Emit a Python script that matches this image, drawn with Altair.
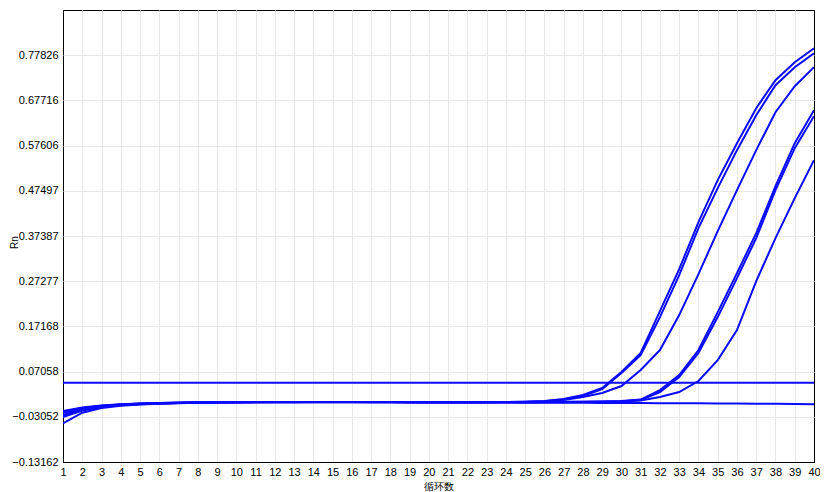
import altair as alt
import pandas as pd

cycles = list(range(1, 41))

well_A = [-0.0176, -0.0098, -0.0053, -0.0025, -0.0008, 0.0003, 0.0012, 0.0018, 0.0022, 0.0024,
          0.0025, 0.0026, 0.0026, 0.0026, 0.0027, 0.0027, 0.0026, 0.0026, 0.0025, 0.0024,
          0.0023, 0.0023, 0.0024, 0.0027, 0.0033, 0.0046, 0.0092, 0.0182, 0.0338, 0.0696,
          0.1121, 0.2060, 0.2999, 0.4049, 0.4988, 0.5815, 0.6598, 0.7224, 0.7626, 0.7939]
well_B = [-0.0221, -0.0120, -0.0064, -0.0032, -0.0012, 0.0000, 0.0010, 0.0017, 0.0021, 0.0023,
          0.0024, 0.0025, 0.0025, 0.0026, 0.0026, 0.0026, 0.0025, 0.0025, 0.0024, 0.0023,
          0.0022, 0.0022, 0.0023, 0.0026, 0.0031, 0.0042, 0.0081, 0.0159, 0.0316, 0.0674,
          0.1076, 0.1925, 0.2864, 0.3915, 0.4809, 0.5659, 0.6441, 0.7112, 0.7514, 0.7827]
well_C = [-0.0265, -0.0142, -0.0075, -0.0040, -0.0018, -0.0004, 0.0006, 0.0013, 0.0018, 0.0021,
          0.0023, 0.0024, 0.0024, 0.0025, 0.0025, 0.0025, 0.0024, 0.0024, 0.0023, 0.0022,
          0.0021, 0.0021, 0.0022, 0.0024, 0.0028, 0.0036, 0.0070, 0.0137, 0.0226, 0.0383,
          0.0741, 0.1188, 0.1970, 0.2887, 0.3848, 0.4765, 0.5659, 0.6508, 0.7090, 0.7514]
well_D = [-0.0310, -0.0165, -0.0086, -0.0045, -0.0022, -0.0007, 0.0004, 0.0011, 0.0016, 0.0019,
          0.0021, 0.0022, 0.0023, 0.0023, 0.0023, 0.0023, 0.0022, 0.0022, 0.0021, 0.0020,
          0.0019, 0.0019, 0.0019, 0.0020, 0.0022, 0.0025, 0.0029, 0.0033, 0.0036, 0.0047,
          0.0081, 0.0293, 0.0629, 0.1188, 0.2037, 0.2909, 0.3803, 0.4854, 0.5815, 0.6553]
well_E = [-0.0198, -0.0109, -0.0058, -0.0028, -0.0010, 0.0002, 0.0011, 0.0017, 0.0021, 0.0023,
          0.0024, 0.0025, 0.0025, 0.0025, 0.0026, 0.0025, 0.0025, 0.0024, 0.0023, 0.0022,
          0.0021, 0.0020, 0.0020, 0.0021, 0.0022, 0.0024, 0.0027, 0.0031, 0.0036, 0.0043,
          0.0070, 0.0249, 0.0584, 0.1121, 0.1925, 0.2797, 0.3692, 0.4765, 0.5704, 0.6419]
well_F = [-0.0288, -0.0154, -0.0080, -0.0042, -0.0020, -0.0005, 0.0005, 0.0012, 0.0017, 0.0020,
          0.0022, 0.0023, 0.0023, 0.0024, 0.0024, 0.0024, 0.0023, 0.0023, 0.0022, 0.0021,
          0.0020, 0.0019, 0.0019, 0.0019, 0.0020, 0.0021, 0.0022, 0.0024, 0.0028, 0.0036,
          0.0059, 0.0137, 0.0249, 0.0495, 0.0964, 0.1635, 0.2730, 0.3692, 0.4586, 0.5435]
well_G = [-0.0451, -0.0214, -0.0109, -0.0060, -0.0030, -0.0012, 0.0000, 0.0008, 0.0013, 0.0016,
          0.0018, 0.0019, 0.0020, 0.0020, 0.0020, 0.0020, 0.0019, 0.0018, 0.0017, 0.0016,
          0.0015, 0.0014, 0.0013, 0.0012, 0.0011, 0.0010, 0.0009, 0.0008, 0.0006, 0.0004,
          0.0002, 0.0000, -0.0002, -0.0004, -0.0006, -0.0008, -0.0012, -0.0016, -0.0020, -0.0024]

threshold = [0.0457]
y_ticks = [-0.13162, -0.03052, 0.07058, 0.17168, 0.27277, 0.37387, 0.47497, 0.57606, 0.67716, 0.77826]
y_domain = [-0.13162, 0.87936]

series = {"A": well_A, "B": well_B, "C": well_C, "D": well_D, "E": well_E, "F": well_F, "G": well_G}
rows = []
for name, vals in series.items():
    for c, v in zip(cycles, vals):
        rows.append({"cycle": c, "Rn": v, "well": name})
df = pd.DataFrame(rows)
thr_df = pd.DataFrame({"Rn": threshold})

BLUE = "#0a0aff"
GRID = "#e8e8e8"
yscale = alt.Scale(domain=y_domain, nice=False, zero=False)

x_grid_color = {"condition": {"test": "datum.value <= 1 || datum.value >= 40", "value": "#000000"}, "value": GRID}
y_grid_color = {"condition": {"test": "datum.value < -0.13", "value": "#000000"}, "value": GRID}

y_enc = alt.Y("Rn:Q", scale=yscale,
              axis=alt.Axis(values=y_ticks, format=".5f", title="Rn", grid=True, domain=False, ticks=False,
                            labelPadding=5, labelOverlap=False, gridColor=y_grid_color,
                            titleFontSize=10, titlePadding=-8, titleY=232))

lines = alt.Chart(df).mark_line(color=BLUE, strokeWidth=2, clip=True).encode(
    x=alt.X("cycle:Q",
            scale=alt.Scale(domain=[1, 40], nice=False, zero=False),
            axis=alt.Axis(values=cycles, title="循环数", grid=True, domain=False, ticks=False,
                          labelPadding=4, labelFlush=False, labelOverlap=False, gridColor=x_grid_color,
                          titleFontSize=10, titleY=24, titleBaseline="middle")),
    y=y_enc,
    detail="well:N",
)

thr = alt.Chart(thr_df).mark_rule(color=BLUE, strokeWidth=2).encode(
    y=alt.Y("Rn:Q", scale=yscale)
)

chart = alt.layer(lines, thr).properties(
    width=751, height=452,
    autosize=alt.AutoSizeParams(type="none"),
    padding={"left": 55, "top": 2, "right": 6, "bottom": 30},
).configure_view(stroke="black", strokeWidth=1).configure_axis(
    labelFont="Arial", labelFontSize=11, labelColor="#000000",
    titleFont="Arial", titleFontWeight="normal", titleColor="#000000",
    gridWidth=1,
)

chart.save("out.html", embed_options={"renderer": "svg", "actions": False})
